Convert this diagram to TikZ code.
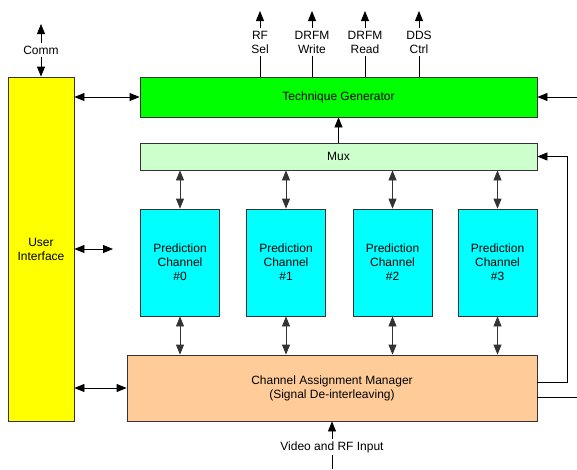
\documentclass[tikz,border=0pt]{standalone}
\usepackage{fontspec}
\setmainfont{Liberation Sans}
\usetikzlibrary{arrows.meta}
\definecolor{uiyellow}{HTML}{FFFF00}
\definecolor{tggreen}{HTML}{00FF00}
\definecolor{muxgreen}{HTML}{CCFFCC}
\definecolor{pccyan}{HTML}{00FFFF}
\definecolor{campeach}{HTML}{FFCC99}

\begin{document}
\begin{tikzpicture}
    [   x = 1pt, y = -1pt
    ,   font = \fontsize{12}{14}\selectfont
    ,   line width = 0.8pt
    ,   block/.style =
        {   draw = black!80
        ,   align = center
        ,   inner sep = 0pt
        }
    ,   lbl/.style = {align = center, inner sep = 2pt}
    ,   arr/.style = {-{Triangle[length = 10pt, width = 8pt]}}
    ,   dbl/.style =
        {   {Triangle[length = 10pt, width = 8pt]}-{Triangle[length = 10pt, width = 8pt]}
        }
    ]
    \useasboundingbox (0,0) rectangle (577,469);

    % blocks
    \node[block, fill = uiyellow, minimum width = 66pt, minimum height = 344pt]
        (ui) at (41,249) {User\\Interface};
    \node[block, fill = tggreen, minimum width = 397pt, minimum height = 40pt]
        (tg) at (338.5,97) {Technique Generator};
    \node[block, fill = muxgreen, minimum width = 397pt, minimum height = 27pt]
        (mux) at (338.5,156.5) {Mux};
    \foreach \i/\x in {0/180, 1/286, 2/392.5, 3/497.5}
    {   \node[block, fill = pccyan, minimum width = 79pt, minimum height = 107pt]
            (pc\i) at (\x,262.5) {Prediction\\Channel\\\#\i};
    }
    \node[block, fill = campeach, minimum width = 410pt, minimum height = 66pt]
        (cam) at (332,388) {Channel Assignment Manager\\(Signal De-interleaving)};

    % outside signals
    \node[lbl] (comm) at (41,50) {Comm};
    \coordinate (commend) at (41,24);
    \draw[arr] (comm) -- (commend);
    \draw[arr] (comm) -- (ui);

    \foreach \x/\n/\t in {260/rfsel/{RF\\Sel}, 312/wr/{DRFM\\Write},
                          365/rd/{DRFM\\Read}, 419/dds/{DDS\\Ctrl}}
    {   \node[lbl] (\n) at (\x,42) {\t};
        \coordinate (\n end) at (\x,11);
        \draw (tg.north -| \n) -- (\n);
        \draw[arr] (\n) -- (\n end);
    }

    \coordinate (tgin) at (577,97);
    \draw[arr] (tgin) -- (tg);
    \coordinate (uiout) at (113,249);
    \coordinate (camout) at (577,397);

    \node[lbl] (video) at (332,447) {Video and RF Input};
    \coordinate (videoend) at (332,469);
    \draw[arr] (video) -- (cam);
    \draw (video) -- (videoend);

    % connectors
    \draw[dbl] (ui.east |- tg) -- (tg);
    \draw[dbl] (ui) -- (uiout);
    \draw[dbl] (ui.east |- cam) -- (cam);
    \draw[arr] (mux) -- (tg);
    \foreach \i in {0,...,3}
    {   \draw[dbl, black!80] (mux.south -| pc\i) -- (pc\i);
        \draw[dbl, black!80] (pc\i) -- (cam.north -| pc\i);
    }
    \draw[arr] ([yshift = 6pt]cam.east) -- ++(30,0) |- (mux);
    \draw ([yshift = -9pt]cam.east) -- (camout);
\end{tikzpicture}
\end{document}
